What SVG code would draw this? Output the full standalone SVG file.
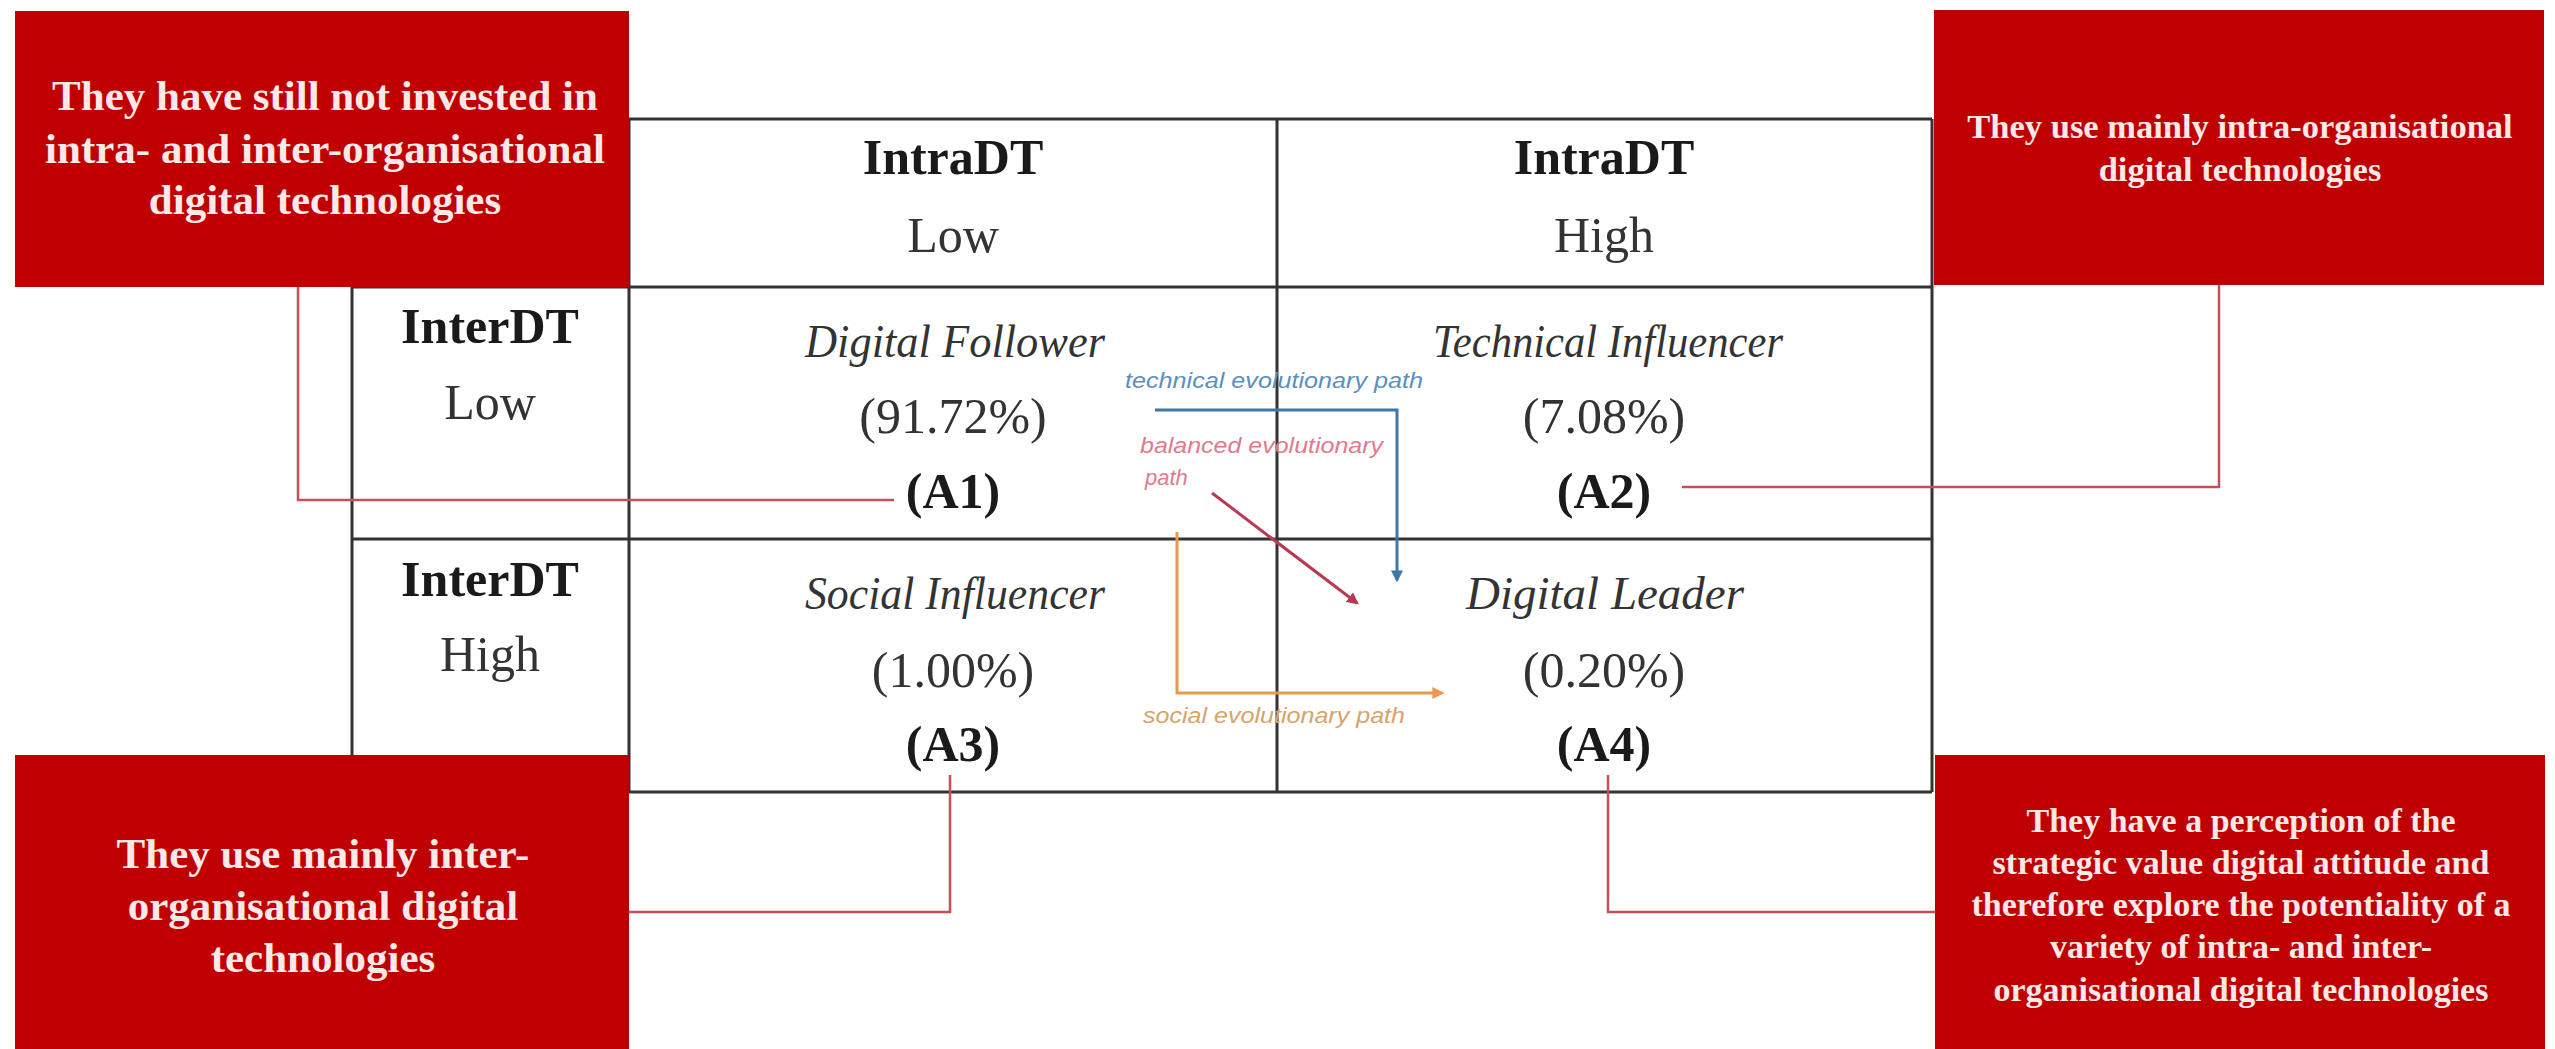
<svg xmlns="http://www.w3.org/2000/svg" width="2555" height="1049" viewBox="0 0 2555 1049">
<defs>
<style>
.box{fill:#c00000}
.bt{font-family:"Liberation Serif",serif;font-weight:bold;fill:#fbe8e8;text-anchor:middle}
.tl{stroke:#333;stroke-width:3;fill:none}
.h{font-family:"Liberation Serif",serif;font-weight:bold;font-size:50px;fill:#1a1a1a;text-anchor:middle}
.r{font-family:"Liberation Serif",serif;font-size:50px;fill:#333;text-anchor:middle}
.it{font-family:"Liberation Serif",serif;font-style:italic;font-size:46px;fill:#333;text-anchor:middle}
.con{stroke:#c4505a;stroke-width:2.5;fill:none}
.lbl{font-family:"Liberation Sans",sans-serif;font-style:italic;font-size:22px}
</style>
<marker id="ab" viewBox="0 0 10 10" refX="8" refY="5" markerWidth="4" markerHeight="4" orient="auto"><path d="M0,0 L10,5 L0,10 z" fill="#3f78a8"/></marker>
<marker id="ar" viewBox="0 0 10 10" refX="8" refY="5" markerWidth="4" markerHeight="4" orient="auto"><path d="M0,0 L10,5 L0,10 z" fill="#b73a55"/></marker>
<marker id="ao" viewBox="0 0 10 10" refX="8" refY="5" markerWidth="4" markerHeight="4" orient="auto"><path d="M0,0 L10,5 L0,10 z" fill="#e89a4c"/></marker>
</defs>
<rect width="2555" height="1049" fill="#fff"/>

<g id="table">
<line class="tl" x1="629" y1="119" x2="1932" y2="119"/>
<line class="tl" x1="352" y1="287" x2="1932" y2="287"/>
<line class="tl" x1="352" y1="539" x2="1932" y2="539"/>
<line class="tl" x1="352" y1="792" x2="1932" y2="792"/>
<line class="tl" x1="352" y1="287" x2="352" y2="792"/>
<line class="tl" x1="629" y1="119" x2="629" y2="792"/>
<line class="tl" x1="1277" y1="119" x2="1277" y2="792"/>
<line class="tl" x1="1932" y1="119" x2="1932" y2="792"/>
</g>

<g id="header-low">
<text class="h" x="953" y="174">IntraDT</text>
<text class="r" x="953" y="252">Low</text>
</g>
<g id="header-high">
<text class="h" x="1604" y="174">IntraDT</text>
<text class="r" x="1604" y="252">High</text>
</g>
<g id="row-low">
<text class="h" x="490" y="343">InterDT</text>
<text class="r" x="490" y="419">Low</text>
</g>
<g id="row-high">
<text class="h" x="490" y="596">InterDT</text>
<text class="r" x="490" y="671">High</text>
</g>
<g id="A1">
<text class="it" x="955" y="357" textLength="300" lengthAdjust="spacingAndGlyphs">Digital Follower</text>
<text class="r" x="953" y="433">(91.72%)</text>
<text class="h" x="953" y="508">(A1)</text>
</g>
<g id="A2">
<text class="it" x="1608" y="357" textLength="350" lengthAdjust="spacingAndGlyphs">Technical Influencer</text>
<text class="r" x="1604" y="433">(7.08%)</text>
<text class="h" x="1604" y="508">(A2)</text>
</g>
<g id="A3">
<text class="it" x="955" y="609" textLength="300" lengthAdjust="spacingAndGlyphs">Social Influencer</text>
<text class="r" x="953" y="687">(1.00%)</text>
<text class="h" x="953" y="761">(A3)</text>
</g>
<g id="A4">
<text class="it" x="1605" y="609" textLength="278" lengthAdjust="spacingAndGlyphs">Digital Leader</text>
<text class="r" x="1604" y="687">(0.20%)</text>
<text class="h" x="1604" y="761">(A4)</text>
</g>

<g id="connectors">
<polyline class="con" points="298,287 298,500 894,500"/>
<polyline class="con" points="2219,285 2219,487 1682,487"/>
<polyline class="con" points="950,775 950,912 629,912"/>
<polyline class="con" points="1608,775 1608,912 1935,912"/>
<polyline points="1155,410 1397,410 1397,580" fill="none" stroke="#3f78a8" stroke-width="3" marker-end="url(#ab)"/>
<line x1="1212" y1="493" x2="1357" y2="603" stroke="#b73a55" stroke-width="3" marker-end="url(#ar)"/>
<polyline points="1177,532 1177,693 1442,693" fill="none" stroke="#e89a4c" stroke-width="3" marker-end="url(#ao)"/>
</g>

<g id="path-labels">
<text class="lbl" x="1125" y="388" fill="#5b8fbf" textLength="298" lengthAdjust="spacingAndGlyphs">technical evolutionary path</text>
<text class="lbl" x="1140" y="453" fill="#e07a8c" textLength="243" lengthAdjust="spacingAndGlyphs">balanced evolutionary</text>
<text class="lbl" x="1145" y="485" fill="#e07a8c">path</text>
<text class="lbl" x="1143" y="723" fill="#d9a36a" textLength="262" lengthAdjust="spacingAndGlyphs">social evolutionary path</text>
</g>

<g id="note-A1">
<rect class="box" x="15" y="11" width="614" height="276"/>
<text class="bt" font-size="43" x="325" y="110">They have still not invested in</text>
<text class="bt" font-size="43" x="325" y="163">intra- and inter-organisational</text>
<text class="bt" font-size="43" x="325" y="214">digital technologies</text>
</g>
<g id="note-A2">
<rect class="box" x="1934" y="10" width="610" height="275"/>
<text class="bt" font-size="34.5" x="2240" y="138">They use mainly intra-organisational</text>
<text class="bt" font-size="34.5" x="2240" y="181">digital technologies</text>
</g>
<g id="note-A3">
<rect class="box" x="15" y="755" width="614" height="294"/>
<text class="bt" font-size="43" x="323" y="868">They use mainly inter-</text>
<text class="bt" font-size="43" x="323" y="920">organisational  digital</text>
<text class="bt" font-size="43" x="323" y="972">technologies</text>
</g>
<g id="note-A4">
<rect class="box" x="1935" y="755" width="610" height="294"/>
<text class="bt" font-size="34" x="2241" y="832">They have a perception of the</text>
<text class="bt" font-size="34" x="2241" y="874">strategic value digital attitude and</text>
<text class="bt" font-size="34" x="2241" y="916">therefore explore the potentiality of a</text>
<text class="bt" font-size="34" x="2241" y="958">variety of intra- and inter-</text>
<text class="bt" font-size="34" x="2241" y="1001">organisational digital technologies</text>
</g>
</svg>
